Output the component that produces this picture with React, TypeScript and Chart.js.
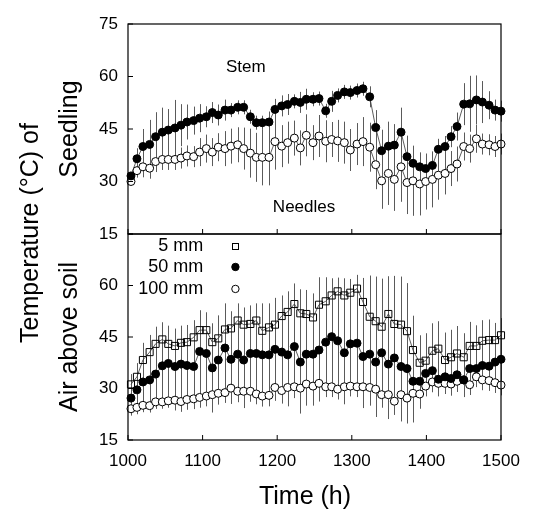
import React, { useEffect, useRef } from "react";
import { Chart, registerables } from "chart.js";

Chart.register(...registerables);

const times = [
  1004, 1012, 1020, 1029, 1037, 1046, 1054, 1063, 1071, 1079,
  1088, 1096, 1105, 1113, 1121, 1130, 1138, 1147, 1155, 1164,
  1172, 1180, 1189, 1197, 1206, 1214, 1223, 1231, 1239, 1248,
  1256, 1265, 1273, 1281, 1290, 1298, 1307, 1315, 1324, 1332,
  1340, 1349, 1357, 1366, 1374, 1382, 1391, 1399, 1408, 1416,
  1425, 1433, 1441, 1450, 1458, 1467, 1475, 1484, 1492, 1500,
];

const stem = [
  31.6, 36.5, 40.0, 40.6, 42.8, 44.1, 44.7, 45.3, 46.1, 47.0,
  47.4, 48.1, 48.5, 49.7, 49.0, 50.4, 50.4, 51.2, 51.2, 48.5,
  46.8, 46.8, 47.0, 50.6, 51.6, 52.0, 52.9, 52.6, 53.5, 53.5,
  53.7, 50.2, 52.9, 54.6, 55.6, 55.4, 56.0, 56.5, 54.2, 45.4,
  38.8, 40.1, 40.4, 44.1, 37.1, 35.2, 34.2, 33.7, 34.6, 39.2,
  40.0, 42.8, 45.7, 52.1, 52.2, 53.3, 52.7, 51.8, 50.4, 50.1,
];
const stemErr = [
  1, 3, 5, 7, 7, 7, 6, 8, 6, 5,
  4, 4, 3, 3, 3, 3, 2, 2, 2, 2,
  2, 2, 3, 3, 3, 3, 2, 3, 3, 2,
  2, 2, 3, 2, 2, 2, 2, 2, 3, 5,
  6, 7, 6, 7, 6, 5, 4, 3, 3, 3,
  3, 3, 4, 6, 8, 7, 6, 4, 3, 3,
];

const needles = [
  30.0, 33.1, 34.2, 33.8, 35.7, 36.3, 36.3, 36.3, 36.7, 37.3,
  37.1, 38.4, 39.4, 38.4, 39.8, 39.4, 40.1, 40.5, 39.4, 38.1,
  36.9, 36.9, 36.9, 41.4, 40.1, 41.1, 42.4, 39.6, 43.2, 41.1,
  43.0, 41.5, 42.0, 41.6, 41.1, 39.0, 40.7, 41.4, 39.8, 34.8,
  30.2, 32.3, 30.6, 34.2, 29.7, 30.2, 29.3, 30.0, 30.6, 31.8,
  32.3, 33.7, 35.0, 40.0, 39.4, 42.2, 40.7, 40.5, 40.0, 40.7,
];
const needlesErr = [
  1, 2, 3, 3, 3, 3, 3, 3, 3, 3,
  3, 4, 4, 4, 4, 5, 5, 5, 6, 7,
  7, 8, 8, 8, 6, 6, 5, 5, 6, 5,
  6, 6, 5, 6, 6, 6, 6, 7, 7, 7,
  8, 9, 9, 10, 9, 10, 9, 8, 8, 7,
  6, 5, 5, 4, 4, 4, 3, 3, 3, 3,
];

const air5 = [
  31.2, 33.4, 38.3, 40.6, 43.0, 44.3, 43.0, 42.4, 43.3, 43.5,
  44.9, 47.0, 47.0, 43.5, 44.6, 47.2, 47.5, 49.8, 48.6, 48.8,
  49.8, 46.8, 47.8, 48.6, 51.1, 52.3, 54.6, 51.9, 51.7, 50.7,
  54.4, 55.4, 57.1, 58.3, 57.1, 57.9, 59.1, 55.2, 50.9, 49.6,
  48.0, 51.7, 48.8, 48.6, 46.7, 41.2, 37.5, 38.1, 41.0, 41.6,
  38.3, 39.1, 40.2, 39.1, 42.4, 42.4, 43.9, 44.1, 44.1, 45.5,
];
const air5Err = [
  3, 4, 5, 5, 5, 5, 5, 5, 5, 5,
  5, 5, 5, 5, 5, 5, 5, 5, 5, 5,
  5, 5, 5, 6, 6, 6, 6, 7, 7, 7,
  8, 7, 5, 4, 5, 4, 4, 7, 12, 13,
  14, 11, 14, 14, 14, 10, 8, 8, 8, 8,
  8, 8, 8, 7, 7, 6, 6, 6, 5, 5,
];

const air50 = [
  27.2, 29.6, 31.9, 32.5, 34.2, 36.6, 37.3, 36.4, 37.1, 36.7,
  36.4, 40.8, 40.2, 36.0, 38.3, 41.8, 38.5, 40.0, 38.3, 40.2,
  40.2, 39.8, 39.8, 41.4, 40.6, 39.8, 42.2, 37.7, 40.0, 40.0,
  41.2, 43.5, 45.1, 43.9, 40.4, 43.0, 43.2, 39.3, 40.0, 37.7,
  40.4, 37.1, 38.9, 36.4, 35.8, 32.1, 32.1, 34.4, 35.2, 32.7,
  33.4, 32.9, 34.0, 32.5, 35.8, 35.8, 36.7, 36.5, 37.7, 38.5,
];
const air50Err = [
  4, 6, 8, 9, 10, 10, 11, 11, 11, 11,
  12, 12, 12, 13, 13, 13, 13, 14, 14, 14,
  14, 15, 15, 15, 15, 15, 15, 15, 15, 15,
  15, 15, 15, 15, 15, 15, 15, 15, 15, 16,
  16, 16, 16, 16, 16, 12, 8, 6, 5, 5,
  5, 5, 5, 5, 5, 5, 5, 5, 5, 5,
];

const air100 = [
  24.1, 24.5, 25.1, 25.0, 26.1, 26.1, 26.4, 26.6, 26.2, 26.8,
  27.0, 27.4, 27.8, 28.2, 28.6, 28.8, 30.1, 29.2, 29.2, 29.2,
  28.4, 27.8, 28.0, 30.3, 29.4, 30.3, 30.5, 30.1, 31.3, 30.7,
  31.5, 30.5, 30.5, 29.8, 30.5, 30.7, 30.5, 30.5, 30.3, 29.8,
  28.2, 28.2, 26.3, 28.2, 27.2, 28.6, 28.4, 30.7, 31.9, 31.5,
  31.5, 31.3, 32.1, 32.5, 31.1, 33.4, 32.5, 32.3, 31.7, 31.0,
];
const air100Err = [
  2, 2, 2, 2, 2, 2, 2, 3, 3, 3,
  3, 3, 3, 3, 3, 3, 3, 3, 3, 3,
  3, 3, 3, 3, 3, 3, 3, 3, 3, 3,
  3, 3, 3, 3, 3, 3, 3, 3, 3, 3,
  3, 4, 4, 4, 4, 4, 3, 3, 3, 3,
  3, 3, 3, 3, 3, 3, 3, 3, 3, 3,
];

const yTicks = [15, 30, 45, 60, 75];
const xTicks = [1000, 1100, 1200, 1300, 1400, 1500];
const legendLabels = ["5 mm", "50 mm", "100 mm"];

const FONT = "'Liberation Sans', Arial, sans-serif";

function pts(vals: number[]) {
  return vals.map((v, i) => ({ x: times[i], y: v }));
}

const errMap: Record<string, number[]> = {
  Stem: stemErr,
  Needles: needlesErr,
  "5 mm": air5Err,
  "50 mm": air50Err,
  "100 mm": air100Err,
};

const overlayPlugin = {
  id: "overlay",
  beforeDatasetsDraw(chart: any) {
    const ctx = chart.ctx;
    const xs = chart.scales.x;
    ctx.save();
    ctx.strokeStyle = "#5a5a5a";
    ctx.lineWidth = 1;
    chart.data.datasets.forEach((ds: any) => {
      const err = errMap[ds.label];
      if (!err) return;
      const ys = chart.scales[ds.yAxisID];
      ds.data.forEach((p: any, i: number) => {
        const px = Math.round(xs.getPixelForValue(p.x)) + 0.5;
        const y1 = ys.getPixelForValue(p.y + err[i]);
        const y2 = ys.getPixelForValue(p.y - err[i]);
        ctx.beginPath();
        ctx.moveTo(px, y1);
        ctx.lineTo(px, y2);
        ctx.stroke();
      });
    });
    ctx.restore();
  },
  afterDraw(chart: any) {
    const ctx = chart.ctx;
    const xs = chart.scales.x;
    const yt = chart.scales.yTop;
    const yb = chart.scales.yBot;
    const left = xs.left;
    const right = xs.right;
    ctx.save();
    ctx.strokeStyle = "#000";
    ctx.lineWidth = 1.2;
    ctx.strokeRect(left, yt.top, right - left, yt.bottom - yt.top);
    ctx.strokeRect(left, yb.top, right - left, yb.bottom - yb.top);
    ctx.lineWidth = 1;
    [yt, yb].forEach((s: any) => {
      yTicks.forEach((v) => {
        const py = s.getPixelForValue(v);
        ctx.beginPath();
        ctx.moveTo(left, py);
        ctx.lineTo(left + 5, py);
        ctx.stroke();
      });
    });
    [yt.bottom, yb.bottom].forEach((by: number) => {
      xTicks.forEach((v) => {
        const px = xs.getPixelForValue(v);
        ctx.beginPath();
        ctx.moveTo(px, by);
        ctx.lineTo(px, by - 5);
        ctx.stroke();
      });
    });

    ctx.fillStyle = "#000";
    ctx.font = `17px ${FONT}`;
    ctx.textAlign = "center";
    ctx.textBaseline = "middle";
    ctx.fillText("Stem", xs.getPixelForValue(1158), yt.getPixelForValue(62.7));
    ctx.fillText("Needles", xs.getPixelForValue(1236), yt.getPixelForValue(22.7));

    ctx.font = `18px ${FONT}`;
    ctx.textAlign = "right";
    const lx = xs.getPixelForValue(1101);
    const mx = xs.getPixelForValue(1144);
    const rowsY = [71.5, 65.4, 59.0];
    legendLabels.forEach((lab, i) => {
      const py = yb.getPixelForValue(rowsY[i]);
      ctx.fillText(lab, lx, py);
      ctx.beginPath();
      ctx.lineWidth = 1;
      if (i === 0) {
        ctx.strokeRect(Math.round(mx - 3) + 0.5, Math.round(py - 3) + 0.5, 6, 6);
      } else {
        ctx.arc(mx, py, 3.7, 0, Math.PI * 2);
        ctx.fillStyle = i === 1 ? "#000" : "#fff";
        ctx.fill();
        ctx.stroke();
        ctx.fillStyle = "#000";
      }
    });

    ctx.font = `25px ${FONT}`;
    ctx.textAlign = "center";
    ctx.textBaseline = "middle";
    ctx.fillText("Time (h)", 305, 497);
    const rot = (t: string, x: number, y: number) => {
      ctx.save();
      ctx.translate(x, y);
      ctx.rotate(-Math.PI / 2);
      ctx.fillText(t, 0, 0);
      ctx.restore();
    };
    rot("Temperature (°C) of", 31, 233);
    rot("Seedling", 70, (yt.top + yt.bottom) / 2);
    rot("Air above soil", 70, (yb.top + yb.bottom) / 2);
    ctx.restore();
  },
};

export default function App() {
  const ref = useRef<HTMLCanvasElement>(null);
  useEffect(() => {
    if (!ref.current) return;
    const filled = { pointStyle: "circle", pointRadius: 4, pointBackgroundColor: "#000", pointBorderColor: "#000", pointBorderWidth: 1 };
    const open = { pointStyle: "circle", pointRadius: 4, pointBackgroundColor: "#fff", pointBorderColor: "#000", pointBorderWidth: 1 };
    const square = { pointStyle: "rect", pointRadius: 5, pointBackgroundColor: "rgba(0,0,0,0)", pointBorderColor: "#000", pointBorderWidth: 1 };
    const line = { borderColor: "#333", borderWidth: 0.8, showLine: true, clip: false, tension: 0 };
    const tickFont = { family: FONT, size: 17 };
    const chart = new Chart(ref.current, {
      type: "line",
      data: {
        datasets: [
          { label: "Stem", data: pts(stem), yAxisID: "yTop", ...line, ...filled },
          { label: "Needles", data: pts(needles), yAxisID: "yTop", ...line, ...open },
          { label: "5 mm", data: pts(air5), yAxisID: "yBot", ...line, ...square },
          { label: "50 mm", data: pts(air50), yAxisID: "yBot", ...line, ...filled },
          { label: "100 mm", data: pts(air100), yAxisID: "yBot", ...line, ...open },
        ] as any,
      },
      options: {
        animation: false,
        responsive: false,
        devicePixelRatio: 1,
        layout: { padding: { top: 24, right: 52, left: 0, bottom: 0 } },
        plugins: { legend: { display: false }, tooltip: { enabled: false } },
        scales: {
          x: {
            type: "linear",
            min: 1000,
            max: 1500,
            afterBuildTicks: (s: any) => { s.ticks = xTicks.map((v) => ({ value: v })); },
            ticks: { color: "#000", font: tickFont, padding: 11, maxRotation: 0, callback: (v: any) => String(v) },
            grid: { display: false, drawTicks: false },
            border: { display: false },
            afterFit: (s: any) => { s.height = 73; },
          },
          yBot: {
            type: "linear",
            position: "left",
            stack: "panels",
            stackWeight: 206,
            min: 15,
            max: 75,
            afterBuildTicks: (s: any) => { s.ticks = yTicks.slice(0, 4).map((v) => ({ value: v })); },
            ticks: { color: "#000", font: tickFont, padding: 10, callback: (v: any) => String(v) },
            grid: { display: false, drawTicks: false },
            border: { display: false },
            afterFit: (s: any) => { s.width = 128; },
          },
          yTop: {
            type: "linear",
            position: "left",
            stack: "panels",
            stackWeight: 210,
            min: 15,
            max: 75,
            afterBuildTicks: (s: any) => { s.ticks = yTicks.map((v) => ({ value: v })); },
            ticks: { color: "#000", font: tickFont, padding: 10, callback: (v: any) => String(v) },
            grid: { display: false, drawTicks: false },
            border: { display: false },
            afterFit: (s: any) => { s.width = 128; },
          },
        } as any,
      },
      plugins: [overlayPlugin],
    });
    return () => chart.destroy();
  }, []);
  return (
    <div style={{ position: "absolute", left: 0, top: 0, width: 553, height: 513, background: "#fff" }}>
      <canvas ref={ref} width={553} height={513} style={{ display: "block", width: 553, height: 513 }} />
    </div>
  );
}
